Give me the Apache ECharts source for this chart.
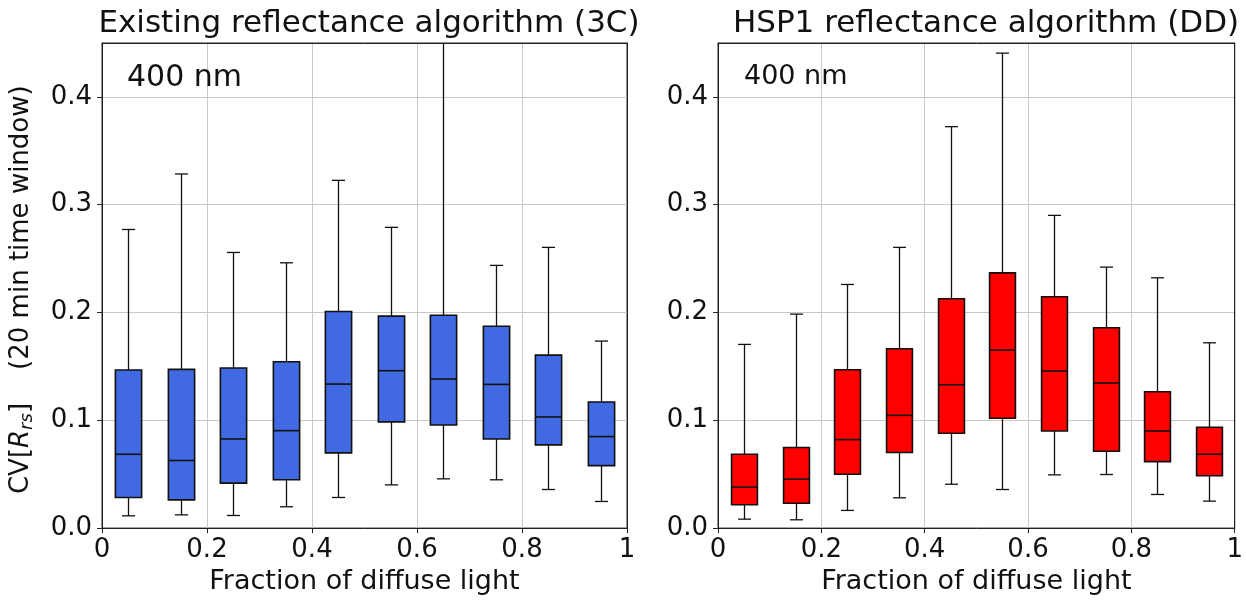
<!DOCTYPE html>
<html><head><meta charset="utf-8">
<script src="https://cdn.jsdelivr.net/npm/echarts@6/dist/echarts.min.js"></script>
<style>html,body{margin:0;padding:0;background:#fff}#c{width:1246px;height:600px}</style>
</head><body><div id="c"></div>
<script>
const xPositions = [0.05,0.15,0.25,0.35,0.45,0.55,0.65,0.75,0.85,0.95];
const xTickLabels = ['0','0.2','0.4','0.6','0.8','1'];
const yTickLabels = ['0.0','0.1','0.2','0.3','0.4'];

// Existing reflectance algorithm (3C)
const leftLow  = [0.0114,0.0123,0.0117,0.0198,0.0284,0.0401,0.0457,0.0448,0.0358,0.0247];
const leftQ1   = [0.0284,0.0262,0.0417,0.0448,0.0698,0.0985,0.0957,0.0827,0.0772,0.0580];
const leftMed  = [0.0685,0.0627,0.0827,0.0904,0.1336,0.1460,0.1383,0.1333,0.1031,0.0849];
const leftQ3   = [0.1466,0.1472,0.1485,0.1543,0.2009,0.1966,0.1975,0.1873,0.1605,0.1170];
const leftHigh = [0.2770,0.3285,0.2557,0.2461,0.3226,0.2790,0.4800,0.2437,0.2604,0.1735];

// HSP1 reflectance algorithm (DD)
const rightLow  = [0.0083,0.0077,0.0164,0.0281,0.0407,0.0358,0.0494,0.0497,0.0312,0.0250];
const rightQ1   = [0.0216,0.0231,0.0500,0.0701,0.0880,0.1019,0.0901,0.0713,0.0617,0.0485];
const rightMed  = [0.0380,0.0454,0.0821,0.1046,0.1330,0.1651,0.1457,0.1346,0.0901,0.0685];
const rightQ3   = [0.0685,0.0747,0.1469,0.1664,0.2127,0.2368,0.2146,0.1858,0.1265,0.0935];
const rightHigh = [0.1704,0.1985,0.2260,0.2604,0.3724,0.4406,0.2901,0.2421,0.2322,0.1719];

const FONT = 'DejaVu Sans';
const BOX_W = 0.05;

function rows(lo,q1,md,q3,hi){ return xPositions.map((x,i)=>[x,lo[i],q1[i],md[i],q3[i],hi[i]]); }

function renderBox(color){
  return function(params, api){
    const x = api.value(0);
    const lo = api.coord([x, api.value(1)]);
    const q1 = api.coord([x, api.value(2)]);
    const md = api.coord([x, api.value(3)]);
    const q3 = api.coord([x, api.value(4)]);
    const hi = api.coord([x, api.value(5)]);
    const w = api.size([BOX_W, 0])[0];
    const cw = w/2;
    const cx = Math.round(q1[0]) + 0.5;
    const ln = {stroke:'#111', lineWidth:1.3};
    return {type:'group', children:[
      {type:'line', shape:{x1:cx,y1:q1[1],x2:cx,y2:lo[1]}, style:ln},
      {type:'line', shape:{x1:cx,y1:q3[1],x2:cx,y2:hi[1]}, style:ln},
      {type:'line', shape:{x1:cx-cw/2,y1:lo[1],x2:cx+cw/2,y2:lo[1]}, style:ln},
      {type:'line', shape:{x1:cx-cw/2,y1:hi[1],x2:cx+cw/2,y2:hi[1]}, style:ln},
      {type:'rect', shape:{x:cx-w/2,y:q3[1],width:w,height:q1[1]-q3[1]}, style:{fill:color, stroke:'#111', lineWidth:1.6}},
      {type:'line', shape:{x1:cx-w/2,y1:md[1],x2:cx+w/2,y2:md[1]}, style:{stroke:'#111', lineWidth:1.6}}
    ]};
  };
}

const grids = [
  {left:102, top:43, width:525, height:486, show:true, borderColor:'#222', borderWidth:1},
  {left:718, top:43, width:524, height:486, show:true, borderColor:'#222', borderWidth:1}
];

function xAxisFor(i){
  return {type:'value', gridIndex:i, min:0, max:1, interval:0.2,
    name:'Fraction of diffuse light', nameLocation:'middle', nameGap:37,
    nameTextStyle:{fontFamily:FONT, fontSize:27, color:'#111'},
    axisLine:{show:true, onZero:false, lineStyle:{color:'#222', width:1}},
    axisTick:{show:true, length:5, inside:false, lineStyle:{color:'#222'}},
    axisLabel:{fontFamily:FONT, fontSize:26, color:'#111', margin:9,
      formatter:v=>xTickLabels[Math.round(v/0.2)]},
    splitLine:{show:true, lineStyle:{color:'#c8c8c8', width:1}}};
}
function yAxisFor(i, withName){
  const ax = {type:'value', gridIndex:i, min:0, max:0.45, interval:0.1,
    axisLine:{show:true, onZero:false, lineStyle:{color:'#222', width:1}},
    axisTick:{show:true, length:5, lineStyle:{color:'#222'}},
    axisLabel:{fontFamily:FONT, fontSize:26, color:'#111', margin:10, showMaxLabel:false,
      formatter:v=>{const k=Math.round(v*10); return k<yTickLabels.length && Math.abs(v*10-k)<1e-6 ? yTickLabels[k] : '';}},
    splitLine:{show:true, lineStyle:{color:'#c8c8c8', width:1}}};
  if(withName){
    ax.name = '{a|CV[}{i|R}{s|rs}{a|]    (20 min time window) }';
    ax.nameLocation = 'middle';
    ax.nameRotate = 90;
    ax.nameGap = 66;
    ax.nameTextStyle = {fontFamily:FONT, color:'#111', rich:{
      a:{fontFamily:FONT, fontSize:26, color:'#111', lineHeight:30, verticalAlign:'middle'},
      i:{fontFamily:FONT, fontSize:26, fontStyle:'italic', color:'#111', lineHeight:30, verticalAlign:'middle'},
      s:{fontFamily:FONT, fontSize:18, fontStyle:'italic', color:'#111', lineHeight:30, verticalAlign:'bottom'}
    }};
  }
  return ax;
}
function frameX(i){ return {type:'value', gridIndex:i, position:'top', min:0, max:1,
  axisLine:{show:true, onZero:false, lineStyle:{color:'#222', width:1}}, axisTick:{show:false}, axisLabel:{show:false}, splitLine:{show:false}}; }
function frameY(i){ return {type:'value', gridIndex:i, position:'right', min:0, max:0.45,
  axisLine:{show:true, onZero:false, lineStyle:{color:'#222', width:1}}, axisTick:{show:false}, axisLabel:{show:false}, splitLine:{show:false}}; }

const option = {
  animation:false,
  backgroundColor:'#fff',
  title:[
    {text:'Existing reflectance algorithm (3C)', left:364, top:3, textAlign:'center',
      textStyle:{fontFamily:FONT, fontSize:31, fontWeight:'normal', color:'#111'}},
    {text:'HSP1 reflectance algorithm (DD)', left:981, top:3, textAlign:'center',
      textStyle:{fontFamily:FONT, fontSize:31, fontWeight:'normal', color:'#111'}}
  ],
  grid: grids,
  xAxis:[xAxisFor(0), xAxisFor(1), frameX(0), frameX(1)],
  yAxis:[yAxisFor(0,true), yAxisFor(1,false), frameY(0), frameY(1)],
  graphic:[
    {type:'text', left:127, top:63, style:{text:'400 nm', font:'30px "DejaVu Sans"', fill:'#111'}, z:10},
    {type:'text', left:744, top:63, style:{text:'400 nm', font:'27px "DejaVu Sans"', fill:'#111'}, z:10}
  ],
  series:[
    {type:'custom', xAxisIndex:0, yAxisIndex:0, clip:true, renderItem:renderBox('#4169E1'),
      encode:{x:0, y:[1,2,3,4,5]}, data:rows(leftLow,leftQ1,leftMed,leftQ3,leftHigh)},
    {type:'custom', xAxisIndex:1, yAxisIndex:1, clip:true, renderItem:renderBox('#FF0000'),
      encode:{x:0, y:[1,2,3,4,5]}, data:rows(rightLow,rightQ1,rightMed,rightQ3,rightHigh)}
  ]
};
const chart = echarts.init(document.getElementById('c'), null, {renderer:'canvas'});
chart.setOption(option);
</script></body></html>
